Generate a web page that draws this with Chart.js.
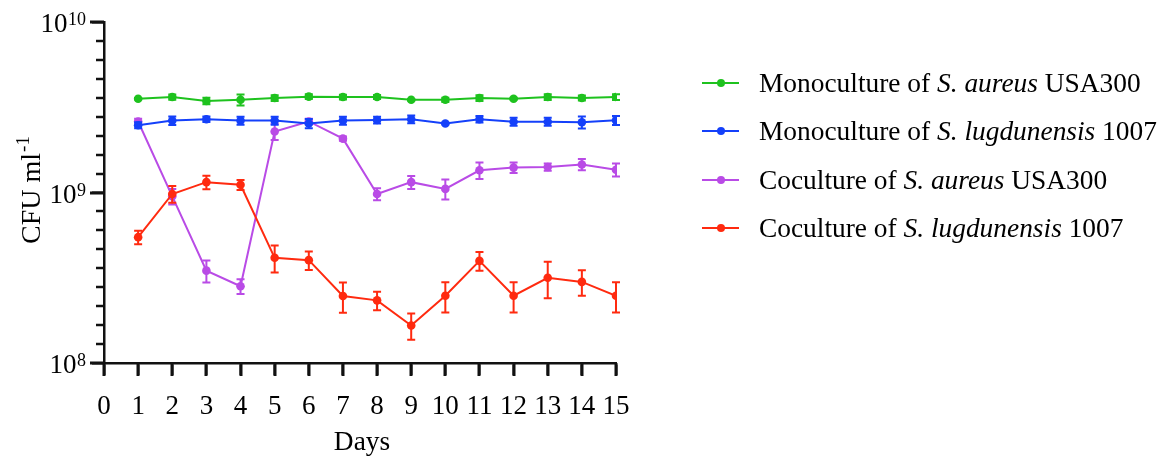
<!DOCTYPE html>
<html>
<head>
<meta charset="utf-8">
<title>CFU over 15 days</title>
<script src="https://cdn.jsdelivr.net/npm/chart.js@4/dist/chart.umd.min.js"></script>
<style>
  html, body { margin: 0; padding: 0; background: #fff; }
  #wrap { position: relative; width: 1164px; height: 459px; }
  #legend { position: absolute; left: 702px; top: 0; font-family: 'Liberation Serif', 'Times New Roman', serif; font-size: 27.4px; color: #000; }
  .item { position: absolute; left: 0; white-space: nowrap; height: 32px; line-height: 32px; }
  .mark { position: absolute; left: 0; top: 15px; width: 37px; height: 2px; }
  .dot { position: absolute; left: 15px; top: -3px; width: 8px; height: 8px; border-radius: 50%; }
  .label { position: absolute; left: 57px; top: 0; }
</style>
</head>
<body>
<div id="wrap">
  <canvas id="chart" width="1164" height="459"></canvas>
  <div id="legend"></div>
</div>
<script>
// Sampling days
const days = [1, 2, 3, 4, 5, 6, 7, 8, 9, 10, 11, 12, 13, 14, 15];

// Mean CFU per ml for each culture
const monoAureus = [3.55e9, 3.63e9, 3.44e9, 3.50e9, 3.58e9, 3.65e9, 3.63e9, 3.63e9, 3.50e9, 3.50e9, 3.58e9, 3.55e9, 3.63e9, 3.58e9, 3.63e9];
const monoLugdunensis = [2.48e9, 2.64e9, 2.69e9, 2.64e9, 2.64e9, 2.54e9, 2.64e9, 2.66e9, 2.69e9, 2.54e9, 2.69e9, 2.60e9, 2.60e9, 2.58e9, 2.65e9];
const coAureus = [2.61e9, 9.5e8, 3.48e8, 2.82e8, 2.28e9, 2.61e9, 2.07e9, 9.8e8, 1.15e9, 1.05e9, 1.35e9, 1.40e9, 1.41e9, 1.46e9, 1.36e9];
const coLugdunensis = [5.47e8, 9.8e8, 1.15e9, 1.11e9, 4.14e8, 4.01e8, 2.47e8, 2.33e8, 1.66e8, 2.48e8, 3.97e8, 2.48e8, 3.16e8, 2.99e8, 2.48e8];

// Standard deviations
const monoAureusSD = [0.03e9, 0.13e9, 0.15e9, 0.26e9, 0.14e9, 0.12e9, 0.12e9, 0.10e9, 0.04e9, 0.10e9, 0.14e9, 0.04e9, 0.14e9, 0.12e9, 0.14e9];
const monoLugdunensisSD = [0.10e9, 0.15e9, 0.10e9, 0.14e9, 0.14e9, 0.16e9, 0.14e9, 0.12e9, 0.14e9, 0.03e9, 0.12e9, 0.14e9, 0.14e9, 0.21e9, 0.16e9];
const coAureusSD = [0.10e9, 1.0e8, 0.51e8, 0.28e8, 0.25e9, 0.10e9, 0.06e9, 0.08e9, 0.10e9, 0.14e9, 0.15e9, 0.10e9, 0.07e9, 0.11e9, 0.12e9];
const coLugdunensisSD = [0.5e8, 1.1e8, 1.05e8, 0.75e8, 0.75e8, 0.5e8, 0.5e8, 0.29e8, 0.29e8, 0.5e8, 0.5e8, 0.5e8, 0.76e8, 0.51e8, 0.5e8];

// Series names: [plain prefix, italic species, plain strain]
const seriesNames = [
  ['Monoculture of ', 'S. aureus', ' USA300'],
  ['Monoculture of ', 'S. lugdunensis', ' 1007'],
  ['Coculture of ', 'S. aureus', ' USA300'],
  ['Coculture of ', 'S. lugdunensis', ' 1007']
];
const seriesColors = ['#1ec21e', '#1440fa', '#b94be6', '#ff2a0f'];

// Axis ticks and titles
const xTicks = [0, 1, 2, 3, 4, 5, 6, 7, 8, 9, 10, 11, 12, 13, 14, 15];
const yMajorTicks = [1e8, 1e9, 1e10];
const yMajorExponents = ['8', '9', '10'];
const yMinorPerDecade = 9;
const xTitle = 'Days';
const yTitleMain = 'CFU ml';
const yTitleSup = '-1';

const FONT = "'Liberation Serif', 'Times New Roman', serif";

const means = [monoAureus, monoLugdunensis, coAureus, coLugdunensis];
const sds = [monoAureusSD, monoLugdunensisSD, coAureusSD, coLugdunensisSD];
const drawOrder = [1, 2, 4, 3];

const datasets = means.map((vals, k) => ({
  label: seriesNames[k].join(''),
  data: vals.map((v, i) => ({ x: days[i], y: v })),
  errors: sds[k],
  borderColor: seriesColors[k],
  backgroundColor: seriesColors[k],
  pointBackgroundColor: seriesColors[k],
  pointBorderWidth: 0,
  pointRadius: 4.3,
  borderWidth: 2,
  tension: 0,
  order: drawOrder[k]
}));

// Vertical error bars with caps, drawn with each dataset
const errorBars = {
  id: 'errorBars',
  afterDatasetDraw(chart, args) {
    const ds = chart.data.datasets[args.index];
    if (!ds.errors) return;
    const ctx = chart.ctx, ys = chart.scales.y;
    ctx.save();
    ctx.strokeStyle = ds.borderColor;
    ctx.lineWidth = 2;
    args.meta.data.forEach((pt, i) => {
      const v = ds.data[i].y, e = ds.errors[i];
      const top = ys.getPixelForValue(v + e);
      const bot = ys.getPixelForValue(v - e);
      ctx.beginPath();
      ctx.moveTo(pt.x, top); ctx.lineTo(pt.x, bot);
      ctx.moveTo(pt.x - 4, top); ctx.lineTo(pt.x + 4, top);
      ctx.moveTo(pt.x - 4, bot); ctx.lineTo(pt.x + 4, bot);
      ctx.stroke();
    });
    ctx.restore();
  }
};

// Minor tick positions: evenly spaced steps inside each decade
const yMinorTicks = [];
for (let d = 0; d < yMajorTicks.length - 1; d++) {
  const lo = Math.log10(yMajorTicks[d]);
  for (let k = 1; k < yMinorPerDecade; k++) yMinorTicks.push(Math.pow(10, lo + k / yMinorPerDecade));
}

// Axis tick marks, power-of-ten labels and axis titles
const axisDecor = {
  id: 'axisDecor',
  afterDraw(chart) {
    const ctx = chart.ctx, ys = chart.scales.y, xs = chart.scales.x;
    const axisX = Math.round(xs.getPixelForValue(0));
    const bottom = Math.round(ys.getPixelForValue(yMajorTicks[0]));
    ctx.save();
    ctx.fillStyle = '#111';
    // minor ticks
    yMinorTicks.forEach(v => {
      const py = Math.round(ys.getPixelForValue(v));
      ctx.fillRect(axisX - 8, py - 1.25, 8, 2.5);
    });
    // decade ticks
    yMajorTicks.forEach(v => {
      const py = Math.round(ys.getPixelForValue(v));
      ctx.fillRect(axisX - 14, py - 1.5, 14, 3);
    });
    // day ticks
    xTicks.forEach(v => {
      const px = Math.round(xs.getPixelForValue(v));
      ctx.fillRect(px - 1.5, bottom, 3, 13);
    });
    // 10^n labels
    ctx.fillStyle = '#000';
    ctx.textBaseline = 'alphabetic';
    yMajorTicks.forEach((v, i) => {
      const py = ys.getPixelForValue(v);
      ctx.font = '18px ' + FONT;
      ctx.textAlign = 'right';
      const sw = ctx.measureText(yMajorExponents[i]).width;
      ctx.fillText(yMajorExponents[i], 86, py + 3);
      ctx.font = '27px ' + FONT;
      ctx.fillText('10', 86 - sw - 0.5, py + 10);
    });
    // x title
    ctx.font = '27.4px ' + FONT;
    ctx.textAlign = 'center';
    ctx.fillText(xTitle, (xs.left + xs.right) / 2 + 2, 450);
    // y title, rotated
    ctx.translate(40, 190);
    ctx.rotate(-Math.PI / 2);
    ctx.font = '28px ' + FONT;
    const mw = ctx.measureText(yTitleMain).width;
    ctx.font = '19px ' + FONT;
    const supw = ctx.measureText(yTitleSup).width;
    const start = -(mw + supw + 1) / 2;
    ctx.textAlign = 'left';
    ctx.font = '28px ' + FONT;
    ctx.fillText(yTitleMain, start, 0);
    ctx.font = '19px ' + FONT;
    ctx.fillText(yTitleSup, start + mw + 1, -11);
    ctx.restore();
  }
};

new Chart(document.getElementById('chart'), {
  type: 'line',
  data: { datasets },
  plugins: [errorBars, axisDecor],
  options: {
    responsive: false,
    animation: false,
    devicePixelRatio: 1,
    layout: { padding: { left: 0, right: 548, top: 22, bottom: 0 } },
    plugins: { legend: { display: false }, tooltip: { enabled: false } },
    scales: {
      x: {
        type: 'linear',
        min: 0,
        max: 15,
        afterBuildTicks(s) { s.ticks = xTicks.map(v => ({ value: v })); },
        afterFit(s) { s.height = 96; },
        ticks: { autoSkip: false, maxRotation: 0, padding: 16, color: '#000', font: { family: FONT, size: 27 } },
        grid: { drawOnChartArea: false, drawTicks: true, tickLength: 12, tickColor: '#000', tickWidth: 2 },
        border: { color: '#111', width: 2.5 }
      },
      y: {
        type: 'logarithmic',
        min: 1e8,
        max: 1e10,
        afterBuildTicks(s) { s.ticks = yMajorTicks.map(v => ({ value: v })); },
        afterFit(s) { s.width = 104; },
        ticks: { callback: () => '', autoSkip: false },
        grid: { drawOnChartArea: false, drawTicks: true, tickLength: 12, tickColor: '#000', tickWidth: 2 },
        border: { color: '#111', width: 2.5 }
      }
    }
  }
});

// Legend rows built from the same series names and colours
const legend = document.getElementById('legend');
const rowCenters = [83, 131, 180, 228];
seriesNames.forEach((parts, k) => {
  const item = document.createElement('div');
  item.className = 'item';
  item.style.top = (rowCenters[k] - 16) + 'px';
  const mark = document.createElement('div');
  mark.className = 'mark';
  mark.style.background = seriesColors[k];
  const dot = document.createElement('div');
  dot.className = 'dot';
  dot.style.background = seriesColors[k];
  mark.appendChild(dot);
  const label = document.createElement('span');
  label.className = 'label';
  label.appendChild(document.createTextNode(parts[0]));
  const it = document.createElement('i');
  it.textContent = parts[1];
  label.appendChild(it);
  label.appendChild(document.createTextNode(parts[2]));
  item.appendChild(mark);
  item.appendChild(label);
  legend.appendChild(item);
});
</script>
</body>
</html>
